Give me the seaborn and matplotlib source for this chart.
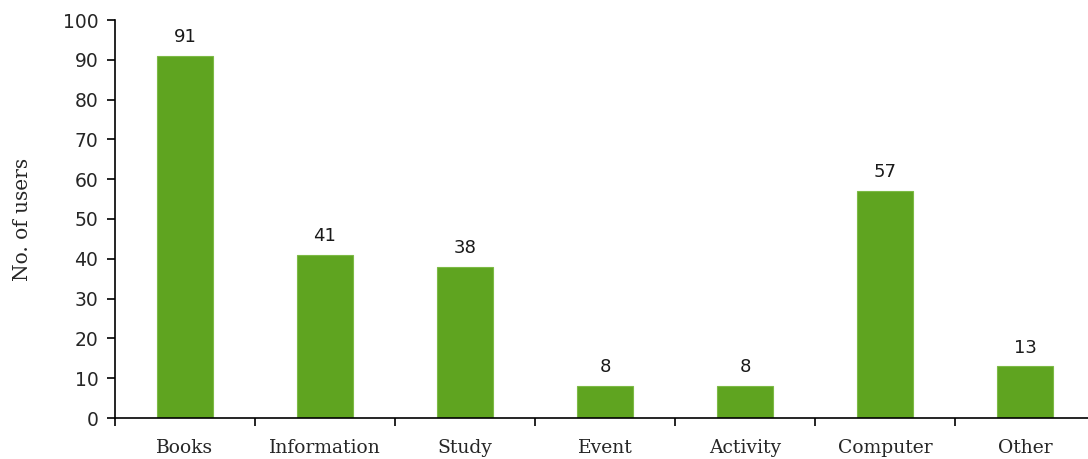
import numpy as np
import pandas as pd
import seaborn as sns
import matplotlib.pyplot as plt
from matplotlib.ticker import FixedLocator, NullFormatter

categories = ["Books", "Information", "Study", "Event", "Activity", "Computer", "Other"]
users = [91, 41, 38, 8, 8, 57, 13]

sns.set_style("white")
plt.rcParams["font.family"] = ["DejaVu Sans"]

df = pd.DataFrame({"category": categories, "users": users})

fig = plt.figure(figsize=(10.88, 4.59), dpi=100)
ax = fig.add_axes([115 / 1088, 41 / 459, 980 / 1088, 398 / 459])

sns.barplot(data=df, x="category", y="users", color="#5FA420", saturation=1,
            width=0.4, edgecolor="#7DBA45", linewidth=0.8, ax=ax)

for c in ax.containers:
    ax.bar_label(c, padding=7, fontsize=13, color="#1a1a1a")

ax.set_xlim(-0.5, len(categories) - 0.5)
ax.set_ylim(0, 100)
ax.set_yticks(np.arange(0, 101, 10))
ax.tick_params(axis="y", direction="out", length=6, width=1.2, color="black",
               labelsize=13.5, pad=6, left=True)
ax.set_ylabel("No. of users", fontsize=14.5, family="DejaVu Serif", labelpad=22)
ax.set_xlabel("")

# ticks on the boundaries between categories
ax.xaxis.set_minor_locator(FixedLocator(np.arange(-0.5, len(categories), 1.0)))
ax.xaxis.set_minor_formatter(NullFormatter())
ax.tick_params(axis="x", which="major", length=0, labelsize=13.5, pad=15)
ax.tick_params(axis="x", which="minor", direction="out", length=6, width=1.2,
               color="black", bottom=True)
for lab in ax.get_xticklabels():
    lab.set_family("DejaVu Serif")

sns.despine(ax=ax, top=True, right=True)
for s in ("left", "bottom"):
    ax.spines[s].set_linewidth(1.2)
    ax.spines[s].set_color("black")

fig.savefig("out.png", dpi=100)
